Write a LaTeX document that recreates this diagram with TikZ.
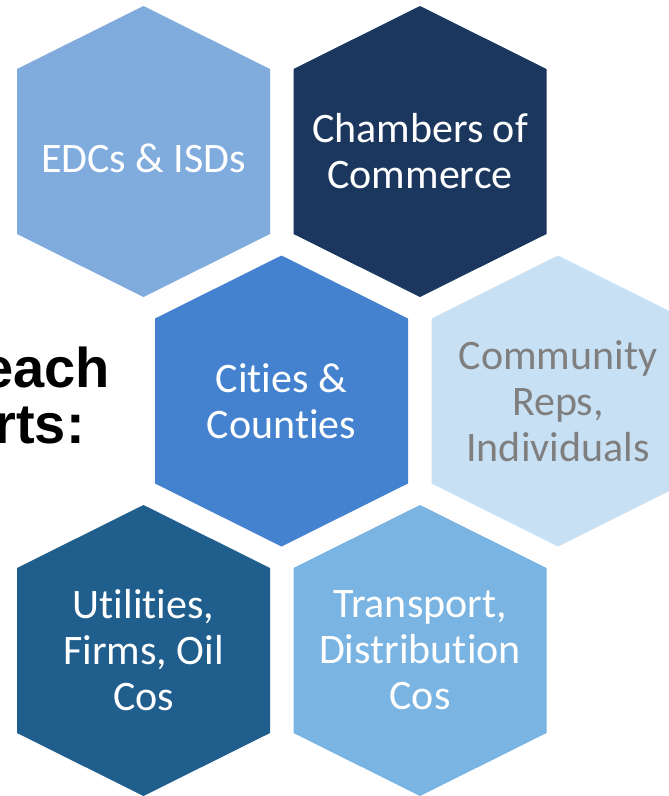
\documentclass[tikz,border=0pt]{standalone}
\usepackage{fontspec}
\setmainfont{Carlito}[Ligatures=NoCommon]
\newfontfamily\headfont{Liberation Sans}
\usepackage{xcolor}

\definecolor{edcblue}{HTML}{7FABDD}
\definecolor{chambernavy}{HTML}{1B375E}
\definecolor{cityblue}{HTML}{4482D0}
\definecolor{repsblue}{HTML}{C8E0F4}
\definecolor{repsgray}{HTML}{7F7F7F}
\definecolor{utilblue}{HTML}{205E8D}
\definecolor{transblue}{HTML}{7AB4E2}

\tikzset{
	cell/.style={align=center, text=white, inner sep=0pt, font=\fontsize{42}{46}\selectfont},
	heading/.style={anchor=base east, inner sep=0pt, font=\headfont\bfseries\fontsize{56}{60}\selectfont},
}

% #1 colour, #2 #3 centre
\newcommand{\hexcell}[3]{%
	\fill[#1] (#2,#3) +(0,-145.5) -- +(126.5,-82.5) -- +(126.5,82.5)
		-- +(0,145.5) -- +(-126.5,82.5) -- +(-126.5,-82.5) -- cycle;}

\begin{document}
\begin{tikzpicture}[x=1pt,y=-1pt]
	\useasboundingbox (0,0) rectangle (669,796);
	% heading, runs off the left edge
	\node[heading] (headA) at (110,387) {each};
	\node[heading] (headB) at (85,443) {rts:};
	% top row
	\hexcell{edcblue}{143.5}{151.5}
	\node[cell] (edc) at (143.5,158.5) {EDCs \& ISDs};
	\hexcell{chambernavy}{420}{151.5}
	\node[cell] (chamber) at (420,151.5) {Chambers of\\Commerce};
	% middle row
	\hexcell{cityblue}{281.5}{401}
	\node[cell] (city) at (281.5,401) {Cities \&\\Counties};
	\hexcell{repsblue}{558}{401}
	\node[cell, text=repsgray] (reps) at (558,401) {Community\\Reps,\\Individuals};
	% bottom row
	\hexcell{utilblue}{143.5}{650.5}
	\node[cell] (util) at (143.5,650.5) {Utilities,\\Firms, Oil\\Cos};
	\hexcell{transblue}{420}{650.5}
	\node[cell] (trans) at (420,650.5) {Transport,\\Distribution\\Cos};
\end{tikzpicture}
\end{document}
